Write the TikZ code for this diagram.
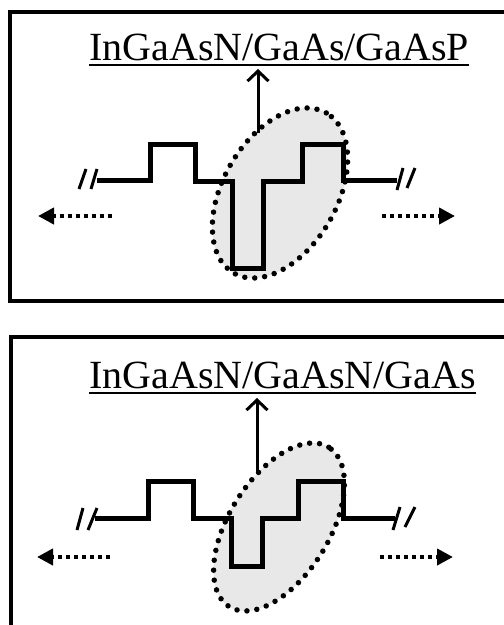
\documentclass[tikz,border=0pt]{standalone}
\usepackage{fontspec}
\setmainfont{Liberation Serif}
\usetikzlibrary{arrows.meta}
\begin{document}
\begin{tikzpicture}[x=1pt,y=-1pt,
  frame/.style={line width=4pt},
  profile/.style={line width=5pt, line join=miter},
  cloud/.style={fill=gray!18},
  cloudedge/.style={line width=5.5pt, line cap=round, dash pattern=on 0pt off 10pt},
  title/.style={font=\fontsize{40}{40}\selectfont, inner sep=0pt, anchor=base west},
  uline/.style={line width=2.5pt},
  pointer/.style={line width=3pt, -{Straight Barb[length=10pt,width=21pt,line width=3pt]}},
  flow/.style={line width=4.5pt, dash pattern=on 4pt off 4pt, -{Triangle[length=16pt,width=16pt]}},
  brk/.style={line width=3pt}]
\useasboundingbox (0,0) rectangle (504,625);
\clip (0,0) rectangle (504,625);
\fill[white] (0,0) rectangle (504,625);

% ---------- top panel ----------
\draw[frame] (10,12) rectangle (520,300.5);
\fill[cloud, rotate around={60:(280,193)}] (280,193) ellipse [x radius=92.5pt, y radius=57pt];
\draw[profile] (97,180) -- (150,180) -- (150,144) -- (195,144) -- (195,181) -- (232,181)
  -- (232,268) -- (263,268) -- (263,181) -- (302,181) -- (302,144) -- (343,144) -- (343,180) -- (397,180);
\draw[cloudedge, rotate around={60:(280,193)}] (280,193) ellipse [x radius=92.5pt, y radius=57pt];
\node[title] (t1) at (89,60) {InGaAsN/GaAs/GaAsP};
\coordinate (u1a) at ([yshift=-5pt]t1.base west);
\coordinate (u1b) at ([yshift=-5pt]t1.base east);
\draw[uline] (u1a) -- (u1b);
\coordinate (a1) at (258,133);
\coordinate (h1) at (258,69);
\draw[pointer] (a1) -- (h1);
\coordinate (l1s) at (112,216); \coordinate (l1e) at (38,216);
\coordinate (r1s) at (382,216); \coordinate (r1e) at (455,216);
\draw[flow] (l1s) -- (l1e);
\draw[flow] (r1s) -- (r1e);
\draw[brk] (79,189) -- (86,169);
\draw[brk] (91,189) -- (97,169);
\draw[brk] (397,190) -- (403,168);
\draw[brk] (407,188) -- (415,168);

% ---------- bottom panel ----------
\draw[frame] (11,337) rectangle (520,640);
\fill[cloud, rotate around={58:(279,527)}] (279,527) ellipse [x radius=94pt, y radius=50pt];
\draw[profile] (95,518) -- (148,518) -- (148,481) -- (193,481) -- (193,518) -- (231,518)
  -- (231,566) -- (262,566) -- (262,518) -- (298,518) -- (298,481) -- (343,481) -- (343,518) -- (395,518);
\draw[cloudedge, rotate around={58:(279,527)}] (279,527) ellipse [x radius=94pt, y radius=50pt];
\node[title] (t2) at (89,388) {InGaAsN/GaAsN/GaAs};
\coordinate (u2a) at ([yshift=-5pt]t2.base west);
\coordinate (u2b) at ([yshift=-5pt]t2.base east);
\draw[uline] (u2a) -- (u2b);
\coordinate (a2) at (257,472);
\coordinate (h2) at (257,398);
\draw[pointer] (a2) -- (h2);
\coordinate (l2s) at (110,557); \coordinate (l2e) at (37,557);
\coordinate (r2s) at (380,557); \coordinate (r2e) at (453,557);
\draw[flow] (l2s) -- (l2e);
\draw[flow] (r2s) -- (r2e);
\draw[brk] (77,530) -- (83,508);
\draw[brk] (88,530) -- (97,508);
\draw[brk] (393,530) -- (400,507);
\draw[brk] (405,527) -- (415,507);
\end{tikzpicture}
\end{document}
